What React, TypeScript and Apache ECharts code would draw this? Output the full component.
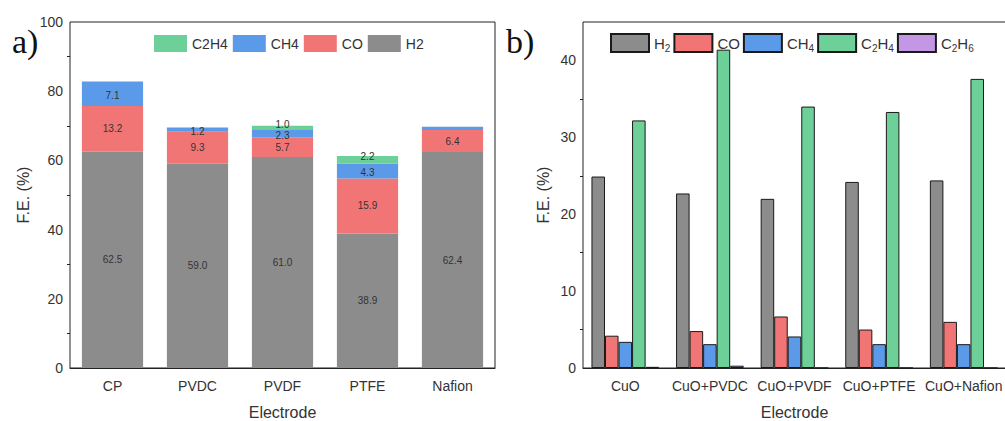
import React, { useEffect, useRef } from "react";
import * as echarts from "echarts";

// ---- Panel a) stacked F.E. by electrode ----
const catsA = ["CP", "PVDC", "PVDF", "PTFE", "Nafion"];
const h2A = [62.5, 59.0, 61.0, 38.9, 62.4];
const coA = [13.2, 9.3, 5.7, 15.9, 6.4];
const ch4A = [7.1, 1.2, 2.3, 4.3, 0.9];
const c2h4A = [0, 0, 1.0, 2.2, 0];
const ticksA = { min: 0, max: 100, interval: 20 };

// ---- Panel b) grouped F.E. by electrode ----
const catsB = ["CuO", "CuO+PVDC", "CuO+PVDF", "CuO+PTFE", "CuO+Nafion"];
const h2B = [24.9, 22.7, 22.0, 24.2, 24.4];
const coB = [4.2, 4.8, 6.7, 5.0, 6.0];
const ch4B = [3.4, 3.1, 4.1, 3.1, 3.1];
const c2h4B = [32.2, 41.4, 34.0, 33.3, 37.6];
const c2h6B = [0.15, 0.3, 0, 0, 0];
const ticksB = { min: 0, max: 45, interval: 10 };

const GRAY = "#8c8c8c";
const RED = "#f27575";
const BLUE = "#5b9ae8";
const GREEN = "#6dd098";
const PURPLE = "#c497e6";
const FONT = "Liberation Sans, Arial, sans-serif";

export default function App() {
  const ref = useRef<HTMLDivElement>(null);
  useEffect(() => {
    if (!ref.current) return;
    const chart = echarts.init(ref.current, undefined, { renderer: "svg" });

    const axisCommon = {
      axisLine: { lineStyle: { color: "#222", width: 1 } },
      axisTick: { lineStyle: { color: "#222" }, length: 5 },
      axisLabel: { color: "#333", fontSize: 14, fontFamily: FONT },
      nameTextStyle: { color: "#333", fontSize: 16, fontFamily: FONT },
      splitLine: { show: false },
    };

    const labelA = (hideIdx: number[] = []) => ({
      show: true,
      position: "inside",
      fontSize: 10,
      color: "#333",
      fontFamily: FONT,
      formatter: (p: any) =>
        hideIdx.includes(p.dataIndex) || p.value === 0 ? "" : Number(p.value).toFixed(1),
    });

    const stackA = (
      name: string,
      data: number[],
      color: string,
      hide: number[] = [],
      offset: [number, number] = [0, 0]
    ) => ({
      name,
      type: "bar",
      stack: "a",
      xAxisIndex: 0,
      yAxisIndex: 0,
      barCategoryGap: "28%",
      data,
      itemStyle: { color },
      label: { ...labelA(hide), offset },
    });

    const barB = (name: string, data: number[], color: string) => ({
      name,
      type: "bar",
      xAxisIndex: 1,
      yAxisIndex: 1,
      barGap: "0%",
      barCategoryGap: "20%",
      data,
      itemStyle: { color, borderColor: "#1a1a1a", borderWidth: 1 },
    });

    const richB: Record<string, string> = {
      "b:H2": "{n|H}{s|2}",
      "b:CO": "{n|CO}",
      "b:CH4": "{n|CH}{s|4}",
      "b:C2H4": "{n|C}{s|2}{n|H}{s|4}",
      "b:C2H6": "{n|C}{s|2}{n|H}{s|6}",
    };

    chart.setOption({
      animation: false,
      textStyle: { fontFamily: FONT },
      grid: [
        {
          left: 70, top: 22, width: 425, height: 346,
          show: true, borderColor: "#222", borderWidth: 1,
          containLabel: false, outerBoundsMode: "none",
        },
        {
          left: 583, top: 22, width: 423, height: 346,
          show: true, borderColor: "#222", borderWidth: 1,
          containLabel: false, outerBoundsMode: "none",
        },
      ],
      graphic: [
        { type: "text", left: 12, top: 24, style: { text: "a)", font: "34px 'Liberation Serif', serif", fill: "#111" } },
        { type: "text", left: 506, top: 24, style: { text: "b)", font: "34px 'Liberation Serif', serif", fill: "#111" } },
      ],
      legend: [
        {
          left: 149,
          top: 30,
          itemWidth: 33,
          itemHeight: 17,
          itemGap: 5,
          icon: "rect",
          data: ["C2H4", "CH4", "CO", "H2"],
          textStyle: { fontSize: 14, color: "#333", fontFamily: FONT },
        },
        {
          left: 605,
          top: 28,
          itemWidth: 38,
          itemHeight: 18,
          itemGap: 3,
          icon: "rect",
          data: ["b:H2", "b:CO", "b:CH4", "b:C2H4", "b:C2H6"],
          formatter: (n: string) => richB[n] || n,
          textStyle: {
            color: "#333",
            fontFamily: FONT,
            rich: {
              n: { fontSize: 15, lineHeight: 20, color: "#333", fontFamily: FONT, verticalAlign: "middle" },
              s: { fontSize: 10, lineHeight: 10, color: "#333", fontFamily: FONT, verticalAlign: "bottom" },
            },
          },
        },
      ],
      xAxis: [
        {
          ...axisCommon,
          type: "category",
          gridIndex: 0,
          data: catsA,
          name: "Electrode",
          nameLocation: "middle",
          nameGap: 36,
          axisLabel: { ...axisCommon.axisLabel, margin: 11 },
        },
        {
          ...axisCommon,
          type: "category",
          gridIndex: 1,
          data: catsB,
          name: "Electrode",
          nameLocation: "middle",
          nameGap: 36,
          axisLabel: { ...axisCommon.axisLabel, margin: 11, interval: 0 },
        },
      ],
      yAxis: [
        {
          ...axisCommon,
          type: "value",
          gridIndex: 0,
          min: ticksA.min,
          max: ticksA.max,
          interval: ticksA.interval,
          name: "F.E. (%)",
          nameLocation: "middle",
          nameGap: 39,
          axisLabel: { ...axisCommon.axisLabel, margin: 7 },
          minorTick: { show: true, splitNumber: 2, length: 3, lineStyle: { color: "#222" } },
        },
        {
          ...axisCommon,
          type: "value",
          gridIndex: 1,
          min: ticksB.min,
          max: ticksB.max,
          interval: ticksB.interval,
          name: "F.E. (%)",
          nameLocation: "middle",
          nameGap: 32,
          axisLabel: { ...axisCommon.axisLabel, margin: 7, showMaxLabel: false },
          minorTick: { show: true, splitNumber: 2, length: 3, lineStyle: { color: "#222" } },
        },
      ],
      series: [
        stackA("H2", h2A, GRAY),
        stackA("CO", coA, RED),
        stackA("CH4", ch4A, BLUE, [4], [0, 2]),
        stackA("C2H4", c2h4A, GREEN, [], [0, -3]),
        barB("b:H2", h2B, GRAY),
        barB("b:CO", coB, RED),
        barB("b:CH4", ch4B, BLUE),
        barB("b:C2H4", c2h4B, GREEN),
        barB("b:C2H6", c2h6B, PURPLE),
      ],
    });

    return () => chart.dispose();
  }, []);

  return (
    <div
      ref={ref}
      style={{ position: "absolute", left: 0, top: 0, width: 1005, height: 421, background: "#fff" }}
    />
  );
}
